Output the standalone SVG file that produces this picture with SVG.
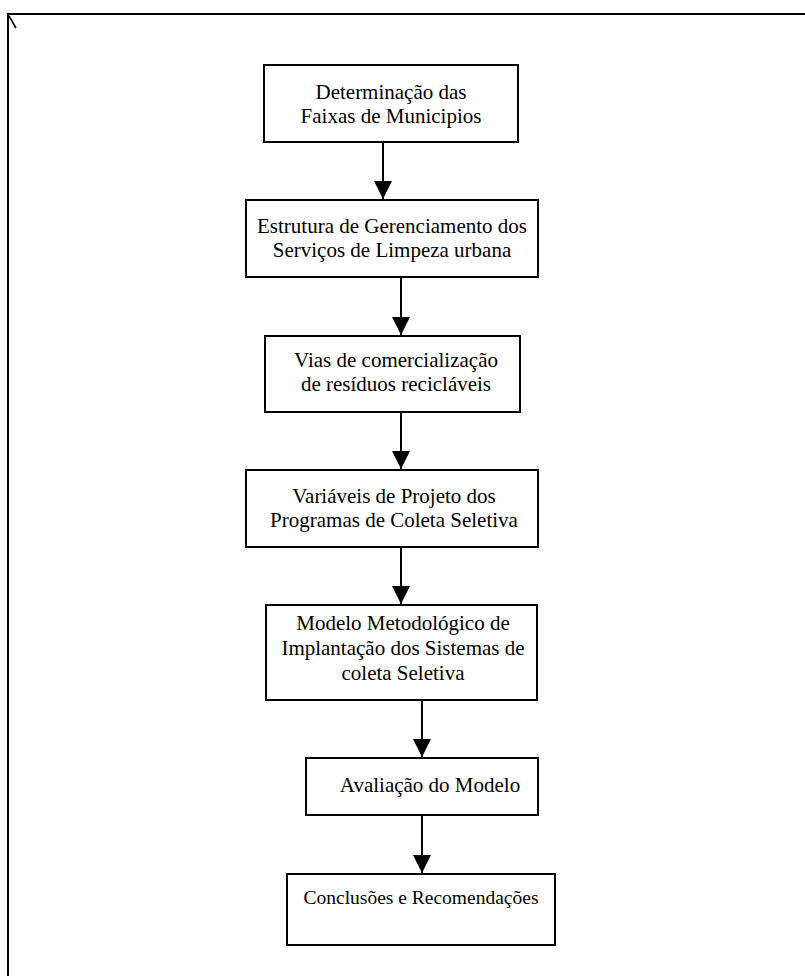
<svg xmlns="http://www.w3.org/2000/svg" width="805" height="976" viewBox="0 0 805 976">
  <style>
    .box { fill: #ffffff; stroke: #000000; stroke-width: 2; }
    .lbl { font-family: "Liberation Serif", "Times New Roman", serif; font-size: 21px; fill: #000000; text-anchor: middle; }
    .small { font-size: 19.5px; }
    .edge { stroke: #000000; stroke-width: 2; fill: none; marker-end: url(#head); }
    .frame { stroke: #000000; stroke-width: 2; fill: none; }
  </style>
  <defs>
    <marker id="head" viewBox="0 0 18 18" refX="18" refY="9" markerWidth="18" markerHeight="18" markerUnits="userSpaceOnUse" orient="auto">
      <path d="M0,0 L18,9 L0,18 Z" fill="#000000"/>
    </marker>
  </defs>

  <rect width="805" height="976" fill="#ffffff"/>

  <!-- page frame (top and left rules) -->
  <g id="frame">
    <path class="frame" d="M8,976 L8,14 L805,14"/>
    <path d="M9,16 L16,28" stroke="#000000" stroke-width="1.5"/>
  </g>

  <g id="n1">
    <rect class="box" x="264" y="65" width="254" height="77"/>
    <text class="lbl" x="391" y="99">Determinação das</text>
    <text class="lbl" x="391" y="123">Faixas de Municipios</text>
  </g>

  <g id="n2">
    <rect class="box" x="246" y="200" width="292" height="77"/>
    <text class="lbl" x="392" y="233">Estrutura de Gerenciamento dos</text>
    <text class="lbl" x="392" y="257">Serviços de Limpeza urbana</text>
  </g>

  <g id="n3">
    <rect class="box" x="265" y="336" width="255" height="76"/>
    <text class="lbl" x="396" y="367">Vias de comercialização</text>
    <text class="lbl" x="396" y="391">de resíduos recicláveis</text>
  </g>

  <g id="n4">
    <rect class="box" x="246" y="470" width="292" height="77"/>
    <text class="lbl" x="394" y="503">Variáveis de Projeto dos</text>
    <text class="lbl" x="394" y="527">Programas de Coleta Seletiva</text>
  </g>

  <g id="n5">
    <rect class="box" x="266" y="605" width="271" height="95"/>
    <text class="lbl" x="403" y="630">Modelo Metodológico de</text>
    <text class="lbl" x="403" y="655">Implantação dos Sistemas de</text>
    <text class="lbl" x="403" y="680">coleta Seletiva</text>
  </g>

  <g id="n6">
    <rect class="box" x="306" y="758" width="232" height="57"/>
    <text class="lbl" x="430" y="792">Avaliação do Modelo</text>
  </g>

  <g id="n7">
    <rect class="box" x="287" y="874" width="268" height="71"/>
    <text class="lbl small" x="421" y="904">Conclusões e Recomendações</text>
  </g>

  <g id="connectors">
    <line class="edge" x1="383" y1="142" x2="383" y2="199"/>
    <line class="edge" x1="401" y1="277" x2="401" y2="335"/>
    <line class="edge" x1="401" y1="412" x2="401" y2="469"/>
    <line class="edge" x1="401" y1="547" x2="401" y2="604"/>
    <line class="edge" x1="422" y1="700" x2="422" y2="757"/>
    <line class="edge" x1="422" y1="815" x2="422" y2="873"/>
  </g>
</svg>
